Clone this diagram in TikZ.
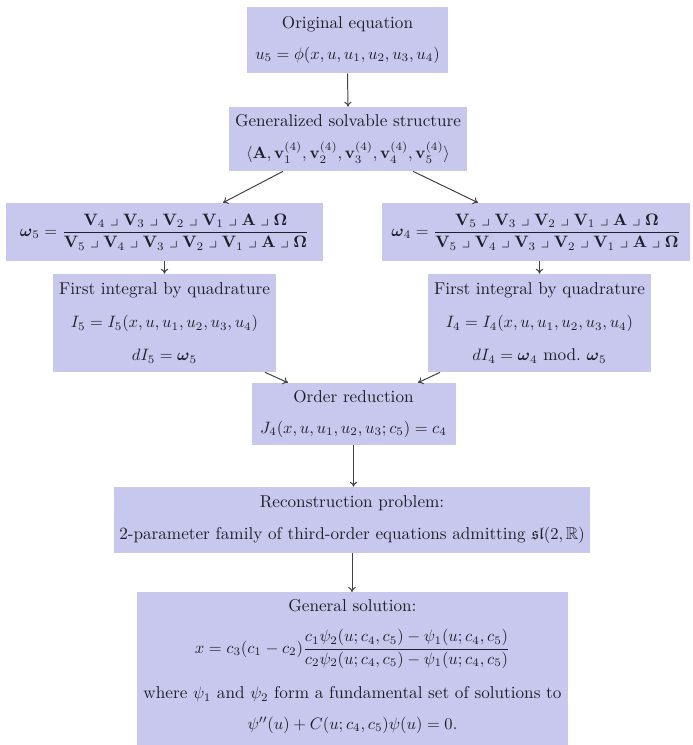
\documentclass[tikz,border=0pt]{standalone}
\usepackage{amsmath,amssymb}
\usetikzlibrary{arrows.meta}
\definecolor{boxfill}{RGB}{200,200,238}
\definecolor{ink}{RGB}{30,30,40}
\newcommand{\ip}{\mathrel{\lrcorner}}
\begin{document}
\begin{tikzpicture}[x=0.606pt,y=-0.606pt,
  flowbox/.style 2 args={fill=boxfill, draw=none, inner sep=0pt, align=center,
    minimum width=#1*0.606pt, minimum height=#2*0.606pt,
    font=\fontsize{10.4}{12.5}\selectfont, text=ink},
  conn/.style={draw=ink!85, line width=0.6pt, -{To[length=3pt,width=4.5pt]}}]
\useasboundingbox (0,0) rectangle (693,745);

\node[flowbox={201}{66}] (orig) at (347.5,40)
  {Original equation\\[6pt] $u_5=\phi(x,u,u_1,u_2,u_3,u_4)$};

\node[flowbox={238}{64}] (gen) at (348,139)
  {Generalized solvable structure\\[7pt]
   $\langle \mathbf{A},\mathbf{v}_1^{(4)},\mathbf{v}_2^{(4)},\mathbf{v}_3^{(4)},\mathbf{v}_4^{(4)},\mathbf{v}_5^{(4)}\rangle$};

\node[flowbox={316}{58}] (omL) at (164.5,232)
  {$\boldsymbol{\omega}_5=\dfrac{\mathbf{V}_4\ip\mathbf{V}_3\ip\mathbf{V}_2\ip\mathbf{V}_1\ip\mathbf{A}\ip\mathbf{\Omega}}
   {\mathbf{V}_5\ip\mathbf{V}_4\ip\mathbf{V}_3\ip\mathbf{V}_2\ip\mathbf{V}_1\ip\mathbf{A}\ip\mathbf{\Omega}}$};

\node[flowbox={308}{58}] (omR) at (536,232)
  {$\boldsymbol{\omega}_4=\dfrac{\mathbf{V}_5\ip\mathbf{V}_3\ip\mathbf{V}_2\ip\mathbf{V}_1\ip\mathbf{A}\ip\mathbf{\Omega}}
   {\mathbf{V}_5\ip\mathbf{V}_4\ip\mathbf{V}_3\ip\mathbf{V}_2\ip\mathbf{V}_1\ip\mathbf{A}\ip\mathbf{\Omega}}$};

\node[flowbox={223}{98}] (fiL) at (164.5,323)
  {First integral by quadrature\\[7.5pt] $I_5=I_5(x,u,u_1,u_2,u_3,u_4)$\\[7.5pt] $dI_5=\boldsymbol{\omega}_5$};

\node[flowbox={223}{98}] (fiR) at (539.5,323)
  {First integral by quadrature\\[7.5pt] $I_4=I_4(x,u,u_1,u_2,u_3,u_4)$\\[7.5pt] $dI_4=\boldsymbol{\omega}_4$ mod.\ $\boldsymbol{\omega}_5$};

\node[flowbox={204}{62}] (order) at (353.5,414)
  {Order reduction\\[6pt] $J_4(x,u,u_1,u_2,u_3;c_5)=c_4$};

\node[flowbox={476}{66}] (recon) at (352,520)
  {Reconstruction problem:\\[7pt] 2-parameter family of third-order equations admitting $\mathfrak{sl}(2,\mathbb{R})$};

\node[flowbox={431}{10}, anchor=north, inner ysep=4pt, text depth=14pt] (gsol) at (352.5,592)
  {General solution:\\[10pt]
   $\displaystyle x=c_3(c_1-c_2)\frac{c_1\psi_2(u;c_4,c_5)-\psi_1(u;c_4,c_5)}{c_2\psi_2(u;c_4,c_5)-\psi_1(u;c_4,c_5)}$\\[10pt]
   where $\psi_1$ and $\psi_2$ form a fundamental set of solutions to\\[6pt]
   $\psi''(u)+C(u;c_4,c_5)\psi(u)=0.$};

\draw[conn] (orig.south) -- (gen.north);
\draw[conn] ([xshift=-65*0.606pt]gen.south) -- ([xshift=58.5*0.606pt]omL.north);
\draw[conn] ([xshift=65*0.606pt]gen.south) -- ([xshift=-58*0.606pt]omR.north);
\draw[conn] (omL.south) -- (fiL.north);
\draw[conn] (fiR.north |- omR.south) -- (fiR.north);
\draw[conn] ([xshift=100.5*0.606pt]fiL.south) -- ([xshift=-65.5*0.606pt]order.north);
\draw[conn] ([xshift=-99.5*0.606pt]fiR.south) -- ([xshift=64.5*0.606pt]order.north);
\draw[conn] (order.south) -- (order.south |- recon.north);
\draw[conn] (recon.south) -- (recon.south |- gsol.north);
\end{tikzpicture}
\end{document}
